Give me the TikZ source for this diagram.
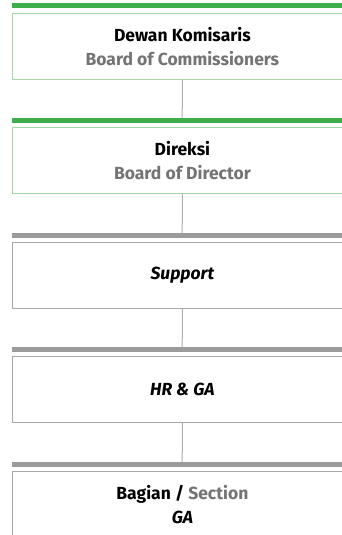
\documentclass[tikz,border=0pt]{standalone}
\usepackage{fontspec}
\setmainfont{Fira Sans}
\usetikzlibrary{positioning}

\definecolor{bargreen}{HTML}{3DAE4B}
\definecolor{boxgreen}{HTML}{A3D8A6}
\definecolor{bargray}{HTML}{9B9B9B}
\definecolor{boxgray}{HTML}{A8A8A8}
\definecolor{linkgray}{HTML}{AEAEAE}
\definecolor{subgray}{HTML}{747474}

\tikzset{
  unit/.style={draw, minimum width=340pt, minimum height=66pt, fill=white,
    align=center, inner sep=0pt, line width=0.8pt, anchor=north west,
    font=\bfseries\fontsize{17.5}{24.5}\selectfont},
  greenunit/.style={unit, draw=boxgreen},
  grayunit/.style={unit, draw=boxgray},
  bar/.style={minimum width=340pt, minimum height=5pt, inner sep=0pt,
    anchor=north west},
  link/.style={draw=linkgray, line width=1pt},
  sub/.style={text=subgray}
}

\begin{document}
\begin{tikzpicture}[x=1pt,y=-1pt]
                \useasboundingbox (0,0) rectangle (341,535);
                % bars on top of each unit
                \node[bar,fill=bargreen] (bar1) at (12,3) {};
                \node[bar,fill=bargreen] (bar2) at (12,118) {};
                \node[bar,fill=bargray] (bar3) at (12,233) {};
                \node[bar,fill=bargray] (bar4) at (12,347) {};
                \node[bar,fill=bargray] (bar5) at (12,462) {};
                % units
                \node[greenunit] (dekom) at (12,13) {Dewan Komisaris\\\textcolor{subgray}{Board of Commissioners}};
                \node[greenunit] (direksi) at (12,127) {Direksi\\\textcolor{subgray}{Board of Director}};
                \node[grayunit] (support) at (12,242) {\itshape Support};
                \node[grayunit] (hrga) at (12,356) {\itshape HR \& GA};
                \node[grayunit] (ga) at (12,471) {Bagian / \textcolor{subgray}{Section}\\\itshape GA};
                % links
                \draw[link] (dekom.south) -- (bar2.north);
                \draw[link] (direksi.south) -- (bar3.north);
                \draw[link] (support.south) -- (bar4.north);
                \draw[link] (hrga.south) -- (bar5.north);
\end{tikzpicture}
\end{document}
